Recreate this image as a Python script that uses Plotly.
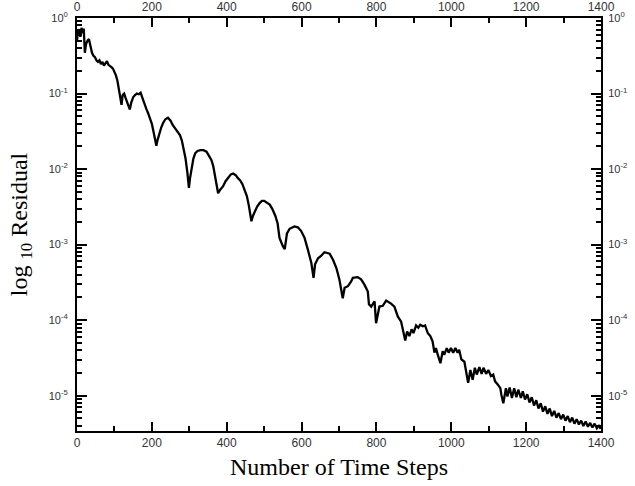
import math
import plotly.graph_objects as go

# Number of time steps and log10 of residual
steps = [0, 3, 6, 9, 12, 15, 18, 21, 24, 28, 32, 36, 40, 44, 48, 52, 56, 60, 64, 68,
         72, 76, 80, 84, 88, 92, 96, 100, 104, 108, 112, 116, 119, 122, 126, 130, 134, 138, 141, 145,
         150, 155, 160, 165, 170, 175, 180, 185, 190, 195, 200, 205, 209, 212, 215, 220, 225, 230, 236, 243,
         250, 256, 262, 268, 275, 280, 285, 290, 295, 299, 302, 306, 311, 316, 322, 330, 338, 346, 352, 359,
         364, 368, 372, 377, 383, 390, 397, 404, 411, 417, 424, 430, 436, 442, 448, 454, 459, 463, 466, 470,
         475, 481, 488, 494, 500, 507, 515, 522, 530, 536, 541, 550, 555, 561, 568, 581, 590, 599, 608, 617,
         626, 632, 636, 644, 652, 661, 675, 684, 693, 701, 706, 710, 715, 724, 732, 737, 750, 759, 768, 777,
         780, 786, 795, 799, 808, 817, 826, 839,
         848, 857, 866, 870, 877, 882, 888, 894, 899, 906, 912, 917, 924, 930, 937, 944, 950, 955, 959, 964,
         971, 977, 981, 988, 993, 999, 1005, 1011, 1017, 1021, 1027, 1035, 1039, 1045, 1051, 1057, 1063, 1068, 1075, 1081,
         1086, 1093, 1099, 1106, 1112, 1117, 1124, 1131, 1134, 1139, 1146, 1150, 1156, 1162, 1168, 1174, 1179, 1186, 1191,
         1197, 1203, 1209, 1215, 1221, 1227, 1233, 1239, 1245, 1251, 1257, 1263, 1269, 1275, 1281, 1287, 1293, 1299, 1305, 1311,
         1317, 1323, 1329, 1335, 1341, 1347, 1353, 1359, 1365, 1371, 1377, 1383, 1389, 1395, 1399]
log_residual = [-0.30, -0.15, -0.17, -0.25, -0.13, -0.20, -0.14, -0.46, -0.35, -0.30, -0.28, -0.38, -0.46, -0.50, -0.52, -0.56, -0.58, -0.56, -0.61, -0.58,
                -0.63, -0.60, -0.57, -0.62, -0.63, -0.65, -0.67, -0.71, -0.76, -0.83, -0.93, -1.05, -1.15, -1.02, -1.00, -1.06, -1.12, -1.18, -1.21, -1.12,
                -1.05, -1.02, -1.00, -1.01, -0.99, -1.06, -1.14, -1.20, -1.26, -1.32, -1.40, -1.52, -1.63, -1.69, -1.62, -1.52, -1.45, -1.39, -1.34, -1.32,
                -1.36, -1.42, -1.46, -1.50, -1.55, -1.62, -1.72, -1.86, -2.05, -2.25, -2.12, -2.00, -1.86, -1.79, -1.76, -1.75, -1.75, -1.77, -1.82, -1.88,
                -1.96, -2.06, -2.18, -2.32, -2.27, -2.23, -2.16, -2.11, -2.07, -2.06, -2.08, -2.12, -2.15, -2.20, -2.27, -2.36, -2.48, -2.60, -2.69, -2.62,
                -2.56, -2.50, -2.45, -2.42, -2.42, -2.44, -2.47, -2.53, -2.62, -2.72, -2.91, -3.02, -3.06, -2.85, -2.79, -2.76, -2.77, -2.82, -2.91, -3.07,
                -3.24, -3.44, -3.26, -3.18, -3.15, -3.10, -3.12, -3.20, -3.31, -3.46, -3.60, -3.71, -3.57, -3.55, -3.49, -3.44, -3.43, -3.46, -3.53, -3.62,
                -3.79, -3.82, -3.75, -4.04, -3.82, -3.81, -3.74, -3.78,
                -3.82, -3.95, -4.02, -4.13, -4.27, -4.15, -4.21, -4.12, -4.17, -4.07, -4.10, -4.06, -4.08, -4.07, -4.17, -4.21, -4.28, -4.43, -4.37, -4.46,
                -4.57, -4.41, -4.46, -4.37, -4.43, -4.37, -4.43, -4.37, -4.43, -4.39, -4.52, -4.55, -4.66, -4.83, -4.66, -4.79, -4.63, -4.72, -4.62, -4.71,
                -4.63, -4.71, -4.66, -4.74, -4.72, -4.81, -4.85, -4.90, -4.99, -5.10, -4.90, -5.01, -4.89, -5.03, -4.90, -5.02, -4.92, -5.03, -4.94,
                -5.05, -4.98, -5.09, -5.02, -5.13, -5.06, -5.17, -5.10, -5.21, -5.14, -5.24, -5.17, -5.27, -5.20, -5.29, -5.23, -5.31, -5.25, -5.33, -5.27,
                -5.35, -5.29, -5.37, -5.31, -5.38, -5.33, -5.40, -5.34, -5.41, -5.36, -5.42, -5.37, -5.43, -5.39, -5.44]

x_ticks = [0, 200, 400, 600, 800, 1000, 1200, 1400]
x_minor = [100, 300, 500, 700, 900, 1100, 1300]
y_ticks = [0, -1, -2, -3, -4, -5]
y_ticktext = ["10<sup>0</sup>", "10<sup>-1</sup>", "10<sup>-2</sup>", "10<sup>-3</sup>",
              "10<sup>-4</sup>", "10<sup>-5</sup>"]
y_minor = [n + math.log10(k) for n in range(-6, 0) for k in range(2, 10)]
y_minor = [v for v in y_minor if v > -5.467]

tick_font = dict(family="Liberation Sans, Arial, sans-serif", size=12, color="#333333")
title_font = dict(family="Liberation Serif, Times New Roman, serif", size=24, color="black")

fig = go.Figure()
fig.add_trace(go.Scatter(x=steps, y=log_residual, mode="lines",
                         line=dict(color="black", width=2.3), showlegend=False))
fig.add_trace(go.Scatter(x=steps, y=log_residual, mode="lines", xaxis="x2", yaxis="y2",
                         line=dict(color="rgba(0,0,0,0)", width=0), showlegend=False,
                         hoverinfo="skip"))

common_x = dict(range=[0, 1400], tickmode="array", tickvals=x_ticks, ticks="inside",
                ticklen=9, tickwidth=2, tickcolor="black", showline=True, linewidth=2,
                linecolor="black", showgrid=False, zeroline=False, tickfont=tick_font,
                minor=dict(tickmode="array", tickvals=x_minor, ticks="inside", ticklen=5,
                           tickwidth=1.5, tickcolor="black", showgrid=False))
common_y = dict(range=[-5.467, 0], tickmode="array", tickvals=y_ticks, ticktext=y_ticktext,
                ticks="inside", ticklen=10, tickwidth=2, tickcolor="black", showline=True,
                linewidth=2, linecolor="black", showgrid=False, zeroline=False,
                tickfont=dict(family="Liberation Sans, Arial, sans-serif", size=11, color="#333333"),
                minor=dict(tickmode="array", tickvals=y_minor, ticks="inside", ticklen=5,
                           tickwidth=1.5, tickcolor="black", showgrid=False))

fig.update_layout(
    width=635, height=486,
    margin=dict(l=77, r=34, t=18, b=55, autoexpand=False),
    plot_bgcolor="white", paper_bgcolor="white",
    xaxis=dict(**common_x, title=dict(text="Number of Time Steps", font=title_font, standoff=9)),
    xaxis2=dict(**common_x, overlaying="x", side="top", anchor="y"),
    yaxis=dict(**common_y, ticklabelstandoff=5,
               title=dict(text="log <sub>10</sub> Residual", font=title_font, standoff=14)),
    yaxis2=dict(**common_y, overlaying="y", side="right", anchor="x", ticklabelstandoff=3),
)

fig.write_html("out.html")
